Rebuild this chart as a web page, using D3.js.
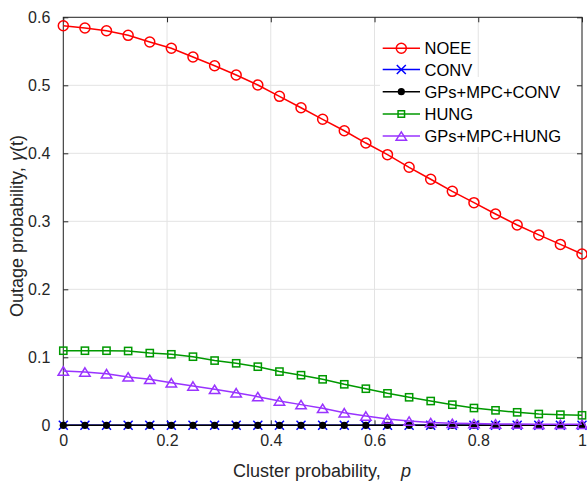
<!DOCTYPE html>
<html><head><meta charset="utf-8">
<script src="https://cdn.jsdelivr.net/npm/d3@7"></script>
<style>body{margin:0;background:#fff}svg{display:block}text{font-family:"Liberation Sans",Arial,sans-serif;fill:#262626}</style>
</head><body><svg id="c" width="587" height="481"></svg>
<script>
const pValues = [0,0.0417,0.0833,0.125,0.1667,0.2083,0.25,0.2917,0.3333,0.375,0.4167,0.4583,0.5,0.5417,0.5833,0.625,0.6667,0.7083,0.75,0.7917,0.8333,0.875,0.9167,0.9583,1];
const noee = [0.5876,0.5843,0.5803,0.5735,0.5637,0.5544,0.5416,0.5288,0.5151,0.5004,0.4838,0.4670,0.4500,0.4332,0.4151,0.3980,0.3794,0.3618,0.3441,0.3274,0.3107,0.2946,0.2800,0.2660,0.2519];
const conv = [0,0,0,0,0,0,0,0,0,0,0,0,0,0,0,0,0,0,0,0,0,0,0,0,0];
const gpsConv = [0,0,0,0,0,0,0,0,0,0,0,0,0,0,0,0,0,0,0,0,0,0,0,0,0];
const hung = [0.1097,0.1097,0.1097,0.1093,0.1062,0.1044,0.1009,0.0952,0.0912,0.0862,0.0790,0.0737,0.0676,0.0603,0.0538,0.0470,0.0412,0.0357,0.0303,0.0254,0.0220,0.0191,0.0166,0.0156,0.0147];
const gpsHung = [0.0799,0.0784,0.0759,0.0712,0.0676,0.0626,0.0578,0.0529,0.0479,0.0421,0.0357,0.0304,0.0250,0.0185,0.0137,0.0093,0.0063,0.0040,0.0030,0.0025,0.0020,0.0018,0.0015,0.0015,0.0015];
const seriesNames = ["NOEE","CONV","GPs+MPC+CONV","HUNG","GPs+MPC+HUNG"];
const xTicks = [0,0.2,0.4,0.6,0.8,1];
const xTickLabels = ["0","0.2","0.4","0.6","0.8","1"];
const yTicks = [0,0.1,0.2,0.3,0.4,0.5,0.6];
const yTickLabels = ["0","0.1","0.2","0.3","0.4","0.5","0.6"];

const svg = d3.select("#c");
const L=63.3, R=582, T=17.3, B=425.3;
const x = d3.scaleLinear().domain([0,1]).range([L,R]);
const y = d3.scaleLinear().domain([0,0.6]).range([B,T]);
const axisCol="#262626", gridCol="#e3e3e3";

// grid
const g = svg.append("g");
g.selectAll(".vg").data(xTicks).join("line").attr("x1",d=>x(d)).attr("x2",d=>x(d)).attr("y1",T).attr("y2",B).attr("stroke",gridCol).attr("stroke-width",1);
g.selectAll(".hg").data(yTicks).join("line").attr("y1",d=>y(d)).attr("y2",d=>y(d)).attr("x1",L).attr("x2",R).attr("stroke",gridCol).attr("stroke-width",1);

// axes via d3 axis
const fmtX = (d,i)=>xTickLabels[i], fmtY=(d,i)=>yTickLabels[i];
function styleAxis(sel){sel.select(".domain").remove();sel.selectAll("line").attr("stroke",axisCol);sel.selectAll("text").style("font-size","16px").attr("fill",axisCol);}
svg.append("g").attr("transform",`translate(0,${B})`).call(d3.axisBottom(x).tickValues(xTicks).tickFormat(fmtX).tickSizeInner(-5).tickSizeOuter(0).tickPadding(9)).call(styleAxis);
svg.append("g").attr("transform",`translate(0,${T})`).call(d3.axisTop(x).tickValues(xTicks).tickFormat("").tickSizeInner(-5).tickSizeOuter(0)).call(styleAxis);
svg.append("g").attr("transform",`translate(${L},0)`).call(d3.axisLeft(y).tickValues(yTicks).tickFormat(fmtY).tickSizeInner(-5).tickSizeOuter(0).tickPadding(13)).call(styleAxis);
svg.append("g").attr("transform",`translate(${R},0)`).call(d3.axisRight(y).tickValues(yTicks).tickFormat("").tickSizeInner(-5).tickSizeOuter(0)).call(styleAxis);
svg.append("rect").attr("x",L).attr("y",T).attr("width",R-L).attr("height",B-T).attr("fill","none").attr("stroke",axisCol).attr("stroke-width",1);

// axis titles
const xl = svg.append("text").attr("x",233).attr("y",476.5).style("font-size","18px");
xl.append("tspan").text("Cluster probability,");
xl.append("tspan").attr("x",401).style("font-style","italic").text("p");
const yl = svg.append("g").attr("transform","translate(23,0) rotate(-90)").append("text").attr("x",-317).attr("y",0).style("font-size","18px");
yl.append("tspan").text("Outage probability,");
yl.append("tspan").attr("x",-161).style("font-style","italic").text("γ");
yl.append("tspan").text("(t)");

// series
const series = [
  {name:seriesNames[0], vals:noee, color:"#ff0000", marker:"circle"},
  {name:seriesNames[1], vals:conv, color:"#0000ff", marker:"x"},
  {name:seriesNames[2], vals:gpsConv, color:"#000000", marker:"dot"},
  {name:seriesNames[3], vals:hung, color:"#009900", marker:"square"},
  {name:seriesNames[4], vals:gpsHung, color:"#9933ff", marker:"triangle"}
];
function drawMarker(sel, type, color, s){
  if(type==="circle") sel.append("circle").attr("r",5*s).attr("fill","none").attr("stroke",color).attr("stroke-width",1.5);
  else if(type==="x") sel.append("path").attr("d",`M${-4.5*s},${-4.5*s}L${4.5*s},${4.5*s}M${-4.5*s},${4.5*s}L${4.5*s},${-4.5*s}`).attr("stroke",color).attr("stroke-width",1.5).attr("fill","none");
  else if(type==="dot") sel.append("circle").attr("r",3.6*s).attr("fill",color);
  else if(type==="square") sel.append("rect").attr("x",-3.6*s).attr("y",-3.6*s).attr("width",7.2*s).attr("height",7.2*s).attr("fill","none").attr("stroke",color).attr("stroke-width",1.5);
  else if(type==="triangle") sel.append("path").attr("d",`M0,${-4.2*s}L${5.2*s},${4.2*s}L${-5.2*s},${4.2*s}Z`).attr("fill","none").attr("stroke",color).attr("stroke-width",1.5);
}
const line = d3.line().x((d,i)=>x(pValues[i])).y(d=>y(d));
series.forEach(sr=>{
  svg.append("path").datum(sr.vals).attr("d",line).attr("fill","none").attr("stroke",sr.color).attr("stroke-width",1.5);
  const mg = svg.append("g");
  sr.vals.forEach((v,i)=>{
    const m = mg.append("g").attr("transform",`translate(${x(pValues[i])},${y(v)})`);
    drawMarker(m, sr.marker, sr.color, 1);
  });
});

// legend
svg.append("rect").attr("x",380).attr("y",77).attr("width",196).attr("height",70).attr("fill","#fff");
const legY = [48.3,69.5,91.7,114,136];
series.forEach((sr,i)=>{
  const lg = svg.append("g").attr("transform",`translate(0,${legY[i]})`);
  lg.append("line").attr("x1",382.7).attr("x2",420).attr("y1",0).attr("y2",0).attr("stroke",sr.color).attr("stroke-width",1.5);
  const m = lg.append("g").attr("transform","translate(401.3,0)");
  drawMarker(m, sr.marker, sr.color, sr.marker==="square"?0.9:1);
  lg.append("text").attr("x",424.5).attr("y",6).style("font-size","16.5px").attr("fill","#000").style("fill","#000").text(sr.name);
});
</script></body></html>
